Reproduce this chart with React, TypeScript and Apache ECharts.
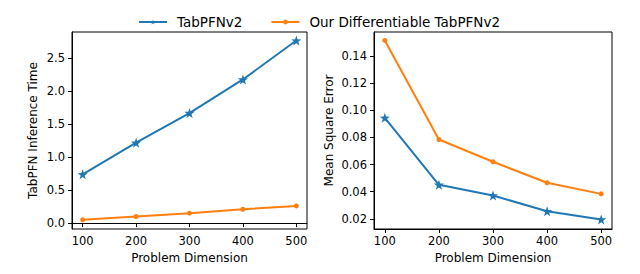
import React, { useEffect, useRef } from "react";
import * as echarts from "echarts";

const dimensions = [100, 200, 300, 400, 500];
const tabpfnTime = [0.74, 1.22, 1.67, 2.18, 2.77];
const diffTime = [0.05, 0.1, 0.15, 0.21, 0.26];
const tabpfnMse = [0.0945, 0.0451, 0.0372, 0.0256, 0.0195];
const diffMse = [0.1516, 0.0785, 0.0621, 0.0466, 0.0384];
const xTicks = [100, 200, 300, 400, 500];
const leftTicks = [0, 0.5, 1.0, 1.5, 2.0, 2.5];
const rightTicks = [0.02, 0.04, 0.06, 0.08, 0.1, 0.12, 0.14];
const seriesNames = ["TabPFNv2", "Our Differentiable TabPFNv2"];

const BLUE = "#1f77b4";
const ORANGE = "#ff7f0e";
const FONT = "DejaVu Sans";
const STAR =
  "path://M0,-10 L2.35,-3.24 L9.51,-3.09 L3.8,1.24 L5.88,8.09 L0,4 L-5.88,8.09 L-3.8,1.24 L-9.51,-3.09 L-2.35,-3.24 Z";

const pairs = (ys: number[]) => dimensions.map((x, i) => [x, ys[i]]);

export default function App() {
  const ref = useRef<HTMLDivElement>(null);
  useEffect(() => {
    if (!ref.current) return;
    const chart = echarts.init(ref.current, null, { renderer: "svg" });
    const axisText = { fontFamily: FONT, fontSize: 11.5, color: "#000" };
    const nameText = { fontFamily: FONT, fontSize: 12, color: "#000" };
    const xAxis = (gridIndex: number) => ({
      type: "value",
      gridIndex,
      min: 80,
      max: 520,
      name: "Problem Dimension",
      nameLocation: "middle",
      nameGap: 23,
      nameTextStyle: nameText,
      splitLine: { show: false },
      axisLine: { show: true, lineStyle: { color: "#000", width: 1 } },
      axisTick: { show: true, length: 4, customValues: xTicks, lineStyle: { color: "#000" } },
      axisLabel: { ...axisText, margin: 6, customValues: xTicks, formatter: (v: number) => String(v) },
    });
    const yAxis = (gridIndex: number, name: string, min: number, max: number, ticks: number[], dec: number, gap: number) => ({
      type: "value",
      gridIndex,
      min,
      max,
      name,
      nameLocation: "middle",
      nameGap: gap,
      nameTextStyle: nameText,
      splitLine: { show: false },
      axisLine: { show: true, lineStyle: { color: "#000", width: 1 } },
      axisTick: { show: true, length: 4, customValues: ticks, lineStyle: { color: "#000" } },
      axisLabel: { ...axisText, margin: 7, customValues: ticks, formatter: (v: number) => v.toFixed(dec) },
    });
    const blueSeries = (xi: number, data: number[]) => ({
      name: seriesNames[0],
      type: "line",
      xAxisIndex: xi,
      yAxisIndex: xi,
      data: pairs(data),
      symbol: STAR,
      symbolSize: 10,
      lineStyle: { color: BLUE, width: 2 },
      itemStyle: { color: BLUE },
    });
    const orangeSeries = (xi: number, data: number[]) => ({
      name: seriesNames[1],
      type: "line",
      xAxisIndex: xi,
      yAxisIndex: xi,
      data: pairs(data),
      symbol: "circle",
      symbolSize: 5,
      lineStyle: { color: ORANGE, width: 2 },
      itemStyle: { color: ORANGE },
    });
    chart.setOption({
      animation: false,
      backgroundColor: "#fff",
      legend: {
        data: seriesNames,
        left: 133,
        top: 10,
        itemWidth: 28,
        itemHeight: 6,
        itemGap: 28,
        textStyle: { fontFamily: FONT, fontSize: 13.5, color: "#000", padding: [0, 0, 0, 5] },
      },
      grid: [
        { left: 72, top: 32, width: 235, height: 197, show: true, borderColor: "#000", borderWidth: 1, backgroundColor: "transparent" },
        { left: 374, top: 32, width: 238, height: 197, show: true, borderColor: "#000", borderWidth: 1, backgroundColor: "transparent" },
      ],
      xAxis: [xAxis(0), xAxis(1)],
      yAxis: [
        yAxis(0, "TabPFN Inference Time", -0.09, 2.9, leftTicks, 1, 33),
        yAxis(1, "Mean Square Error", 0.0125, 0.1578, rightTicks, 2, 39),
      ],
      series: [
        blueSeries(0, tabpfnTime),
        orangeSeries(0, diffTime),
        blueSeries(1, tabpfnMse),
        orangeSeries(1, diffMse),
      ],
    });
    return () => chart.dispose();
  }, []);
  return (
    <div
      ref={ref}
      style={{ position: "fixed", left: 0, top: 0, width: 640, height: 274 }}
    />
  );
}
